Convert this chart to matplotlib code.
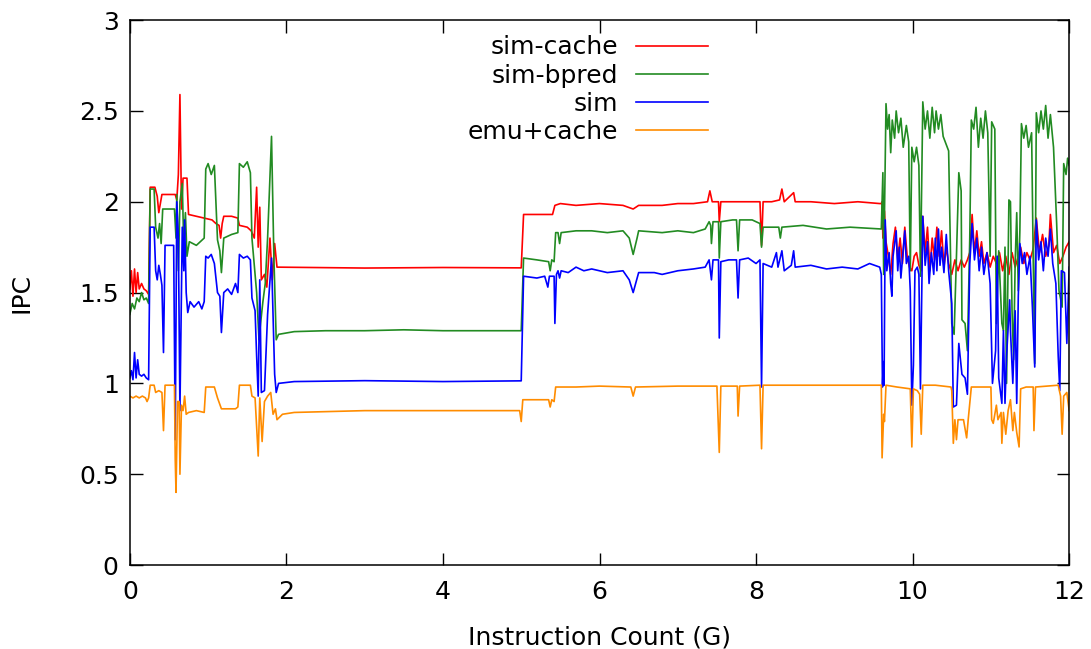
import numpy as np
import matplotlib.pyplot as plt
from matplotlib.ticker import FormatStrFormatter

# IPC traces, as (instruction count in G, IPC) pairs
sim_cache = np.array([
    (0.00, 1.52), (0.02, 1.62), (0.04, 1.48), (0.06, 1.63), (0.08, 1.50), (0.10, 1.61),
    (0.12, 1.52), (0.15, 1.55), (0.18, 1.52), (0.21, 1.51), (0.24, 1.49), (0.26, 2.08),
    (0.32, 2.08), (0.35, 2.03), (0.37, 1.94), (0.39, 1.99), (0.41, 2.04), (0.58, 2.04),
    (0.60, 2.01), (0.62, 2.15), (0.64, 2.59), (0.66, 1.96), (0.68, 2.13), (0.73, 2.13),
    (0.75, 1.93), (0.85, 1.92), (0.95, 1.91), (1.05, 1.90), (1.10, 1.88), (1.14, 1.87),
    (1.16, 1.80), (1.18, 1.88), (1.20, 1.92), (1.30, 1.92), (1.38, 1.91), (1.40, 1.87),
    (1.50, 1.86), (1.55, 1.84), (1.59, 1.80), (1.62, 2.08), (1.64, 1.75), (1.66, 1.97),
    (1.68, 1.57), (1.72, 1.60), (1.75, 1.53), (1.79, 1.80), (1.82, 1.57), (1.85, 1.77),
    (1.88, 1.64), (3.00, 1.635), (4.00, 1.638), (5.00, 1.636),
    (5.03, 1.93), (5.20, 1.93), (5.40, 1.93), (5.43, 1.98), (5.50, 1.99), (5.70, 1.98),
    (6.00, 1.99), (6.30, 1.98), (6.43, 1.96), (6.50, 1.98), (6.80, 1.98), (7.00, 1.99),
    (7.20, 1.99), (7.38, 2.00), (7.41, 2.06), (7.44, 2.00), (7.52, 2.00), (7.53, 1.89),
    (7.55, 2.00), (7.70, 2.00), (7.90, 2.00), (8.05, 2.00), (8.07, 1.76), (8.09, 2.00),
    (8.20, 2.00), (8.30, 2.01), (8.33, 2.07), (8.36, 2.00), (8.48, 2.05), (8.50, 2.00),
    (8.70, 2.00), (9.00, 1.99), (9.30, 2.00), (9.58, 1.99),
    (9.60, 1.99), (9.61, 2.00), (9.62, 1.80), (9.64, 1.95), (9.66, 1.78), (9.69, 1.70),
    (9.72, 1.60), (9.75, 1.77), (9.78, 1.86), (9.81, 1.68), (9.84, 1.80), (9.87, 1.66),
    (9.90, 1.86), (9.93, 1.70), (9.96, 1.64), (9.99, 1.62), (10.02, 1.70), (10.05, 1.72),
    (10.08, 1.65), (10.11, 1.62), (10.13, 1.92), (10.16, 1.72), (10.19, 1.86), (10.22, 1.62),
    (10.25, 1.80), (10.28, 1.68), (10.31, 1.86), (10.34, 1.70), (10.37, 1.84), (10.40, 1.64),
    (10.43, 1.75), (10.46, 1.66), (10.50, 1.60), (10.54, 1.68), (10.58, 1.62), (10.62, 1.68),
    (10.66, 1.64), (10.70, 1.68), (10.73, 1.72), (10.76, 1.93), (10.79, 1.72), (10.82, 1.84),
    (10.85, 1.70), (10.88, 1.78), (10.91, 1.66), (10.95, 1.72), (10.99, 1.64), (11.03, 1.70),
    (11.07, 1.66), (11.11, 1.72), (11.15, 1.62), (11.19, 1.70), (11.23, 1.60), (11.27, 1.72),
    (11.31, 1.64), (11.35, 1.70), (11.38, 1.75), (11.42, 1.66), (11.46, 1.72), (11.50, 1.68),
    (11.54, 1.74), (11.58, 1.91), (11.62, 1.72), (11.66, 1.82), (11.70, 1.70), (11.74, 1.76),
    (11.76, 1.93), (11.80, 1.72), (11.84, 1.76), (11.88, 1.66), (11.92, 1.70), (11.96, 1.75),
    (12.00, 1.78),
])

sim_bpred = np.array([
    (0.00, 1.38), (0.03, 1.44), (0.06, 1.41), (0.09, 1.47), (0.12, 1.45), (0.15, 1.50),
    (0.18, 1.46), (0.21, 1.47), (0.24, 1.44), (0.26, 2.07), (0.31, 2.07), (0.33, 1.86),
    (0.36, 1.80), (0.38, 1.88), (0.40, 1.77), (0.42, 1.96), (0.57, 1.96), (0.59, 1.80),
    (0.60, 2.04), (0.62, 1.62), (0.64, 2.00), (0.67, 2.10), (0.69, 1.74), (0.71, 1.94),
    (0.73, 1.70), (0.76, 1.78), (0.85, 1.76), (0.95, 1.80), (0.97, 2.18), (1.00, 2.21),
    (1.04, 2.15), (1.08, 2.20), (1.12, 1.79), (1.15, 1.73), (1.17, 1.61), (1.20, 1.80),
    (1.30, 1.82), (1.38, 1.83), (1.40, 2.21), (1.45, 2.19), (1.50, 2.22), (1.54, 2.16),
    (1.56, 1.80), (1.60, 1.60), (1.62, 1.50), (1.65, 1.24), (1.67, 1.33), (1.70, 1.45),
    (1.73, 1.55), (1.76, 1.80), (1.81, 2.36), (1.84, 1.70), (1.87, 1.24), (1.90, 1.27),
    (2.10, 1.285), (2.50, 1.29), (3.00, 1.29), (3.50, 1.295), (4.00, 1.29), (5.00, 1.29),
    (5.03, 1.69), (5.20, 1.68), (5.35, 1.67), (5.37, 1.62), (5.39, 1.68), (5.42, 1.67),
    (5.44, 1.83), (5.47, 1.83), (5.49, 1.77), (5.51, 1.83), (5.70, 1.84), (5.90, 1.84),
    (6.10, 1.83), (6.30, 1.84), (6.38, 1.80), (6.43, 1.71), (6.48, 1.80), (6.50, 1.84),
    (6.80, 1.83), (7.00, 1.84), (7.20, 1.83), (7.35, 1.85), (7.40, 1.89), (7.42, 1.87),
    (7.43, 1.77), (7.45, 1.89), (7.52, 1.89), (7.53, 1.69), (7.55, 1.89), (7.70, 1.90),
    (7.75, 1.90), (7.77, 1.73), (7.79, 1.90), (7.95, 1.90), (8.05, 1.88), (8.07, 1.75),
    (8.09, 1.86), (8.25, 1.86), (8.29, 1.86), (8.31, 1.80), (8.33, 1.86), (8.60, 1.87),
    (8.90, 1.85), (9.20, 1.86), (9.58, 1.85),
    (9.60, 1.85), (9.62, 2.16), (9.63, 1.60), (9.66, 2.54), (9.68, 2.40), (9.70, 2.48),
    (9.72, 2.27), (9.74, 2.45), (9.77, 2.35), (9.79, 2.50), (9.82, 2.38), (9.85, 2.46),
    (9.88, 2.30), (9.92, 2.42), (9.95, 2.33), (9.97, 1.62), (9.99, 2.30), (10.02, 2.22),
    (10.05, 2.30), (10.08, 2.20), (10.10, 1.59), (10.13, 2.55), (10.16, 2.40), (10.19, 2.50),
    (10.22, 2.35), (10.25, 2.52), (10.28, 2.38), (10.30, 2.50), (10.33, 2.40), (10.36, 2.48),
    (10.39, 2.36), (10.46, 2.28), (10.50, 1.33), (10.53, 1.27), (10.56, 1.70), (10.59, 2.16),
    (10.62, 2.06), (10.63, 1.35), (10.67, 1.33), (10.70, 1.18), (10.73, 1.80), (10.75, 2.45),
    (10.78, 2.40), (10.81, 2.52), (10.84, 2.30), (10.87, 2.46), (10.90, 2.35), (10.93, 2.50),
    (10.96, 2.38), (10.99, 1.70), (11.01, 2.44), (11.05, 2.40), (11.07, 1.33), (11.10, 1.73),
    (11.14, 1.33), (11.16, 1.29), (11.18, 1.75), (11.20, 1.00), (11.23, 2.01), (11.25, 2.00),
    (11.27, 1.40), (11.29, 1.13), (11.31, 1.67), (11.33, 1.94), (11.35, 1.51), (11.37, 1.84),
    (11.39, 2.43), (11.42, 2.35), (11.45, 2.42), (11.48, 2.30), (11.52, 2.38), (11.54, 1.70),
    (11.56, 1.11), (11.58, 2.49), (11.61, 2.38), (11.64, 2.50), (11.67, 2.40), (11.70, 2.53),
    (11.73, 2.35), (11.76, 2.48), (11.80, 2.30), (11.84, 1.88), (11.87, 1.51), (11.91, 1.42),
    (11.93, 2.21), (11.96, 2.15), (11.98, 2.24), (12.00, 2.20),
])

sim = np.array([
    (0.00, 1.03), (0.02, 1.07), (0.04, 1.02), (0.06, 1.17), (0.08, 1.03), (0.10, 1.13),
    (0.12, 1.05), (0.15, 1.04), (0.18, 1.05), (0.21, 1.03), (0.24, 1.02), (0.26, 1.86),
    (0.31, 1.86), (0.33, 1.62), (0.35, 1.57), (0.37, 1.65), (0.39, 1.60), (0.41, 1.54),
    (0.43, 1.17), (0.45, 1.76), (0.56, 1.76), (0.58, 0.69), (0.60, 2.00), (0.62, 1.80),
    (0.64, 0.85), (0.67, 1.86), (0.69, 1.62), (0.70, 1.90), (0.72, 1.50), (0.74, 1.39),
    (0.77, 1.45), (0.82, 1.42), (0.88, 1.45), (0.92, 1.41), (0.95, 1.45), (0.97, 1.70),
    (1.00, 1.69), (1.04, 1.71), (1.08, 1.66), (1.12, 1.50), (1.15, 1.48), (1.17, 1.28),
    (1.20, 1.50), (1.25, 1.52), (1.30, 1.49), (1.35, 1.55), (1.38, 1.50), (1.40, 1.71),
    (1.45, 1.69), (1.50, 1.70), (1.54, 1.68), (1.56, 1.47), (1.60, 1.40), (1.62, 1.15),
    (1.64, 0.93), (1.66, 1.57), (1.68, 0.95), (1.72, 0.96), (1.76, 1.38), (1.81, 1.69),
    (1.85, 1.05), (1.87, 0.95), (1.90, 1.00), (2.10, 1.01), (3.00, 1.015), (4.00, 1.01),
    (5.00, 1.014),
    (5.03, 1.59), (5.20, 1.58), (5.30, 1.59), (5.34, 1.53), (5.36, 1.59), (5.42, 1.59),
    (5.43, 1.33), (5.45, 1.60), (5.47, 1.62), (5.49, 1.58), (5.51, 1.62), (5.60, 1.61),
    (5.70, 1.64), (5.80, 1.62), (5.90, 1.63), (6.10, 1.61), (6.30, 1.62), (6.38, 1.57),
    (6.43, 1.50), (6.48, 1.58), (6.50, 1.61), (6.70, 1.61), (6.80, 1.60), (7.00, 1.62),
    (7.20, 1.63), (7.35, 1.64), (7.40, 1.68), (7.43, 1.57), (7.45, 1.68), (7.52, 1.68),
    (7.53, 1.25), (7.55, 1.67), (7.65, 1.68), (7.75, 1.68), (7.77, 1.47), (7.79, 1.68),
    (7.90, 1.69), (8.00, 1.66), (8.05, 1.68), (8.07, 0.98), (8.09, 1.66), (8.20, 1.64),
    (8.26, 1.72), (8.28, 1.64), (8.33, 1.73), (8.36, 1.62), (8.45, 1.65), (8.48, 1.73),
    (8.50, 1.64), (8.70, 1.65), (8.90, 1.63), (9.10, 1.64), (9.30, 1.63), (9.45, 1.66),
    (9.58, 1.64),
    (9.60, 1.60), (9.615, 0.98), (9.625, 1.12), (9.635, 0.99), (9.65, 1.90), (9.67, 1.62),
    (9.70, 1.72), (9.72, 1.55), (9.735, 1.48), (9.75, 1.70), (9.79, 1.84), (9.81, 1.62),
    (9.83, 1.75), (9.85, 1.58), (9.90, 1.84), (9.92, 1.66), (9.95, 1.70), (9.97, 1.51),
    (9.99, 0.88), (10.01, 1.10), (10.03, 1.62), (10.06, 1.64), (10.08, 1.60), (10.10, 0.97),
    (10.13, 1.92), (10.16, 1.65), (10.19, 1.78), (10.21, 1.55), (10.24, 1.72), (10.27, 1.60),
    (10.29, 1.80), (10.31, 1.62), (10.33, 1.85), (10.35, 1.65), (10.37, 1.75), (10.40, 1.61),
    (10.43, 1.82), (10.46, 1.62), (10.50, 1.44), (10.52, 0.87), (10.56, 0.88), (10.59, 1.22),
    (10.63, 1.05), (10.67, 1.03), (10.70, 0.94), (10.73, 1.66), (10.76, 1.88), (10.79, 1.68),
    (10.82, 1.80), (10.85, 1.62), (10.88, 1.75), (10.91, 1.60), (10.95, 1.72), (10.99, 1.55),
    (11.02, 1.00), (11.06, 1.18), (11.08, 1.70), (11.10, 1.03), (11.14, 0.89), (11.16, 1.29),
    (11.18, 0.89), (11.20, 1.15), (11.24, 1.46), (11.25, 1.29), (11.28, 1.00), (11.31, 1.40),
    (11.33, 0.89), (11.35, 1.48), (11.37, 1.77), (11.40, 1.66), (11.43, 1.72), (11.46, 1.60),
    (11.50, 1.70), (11.53, 1.42), (11.56, 1.09), (11.58, 1.90), (11.61, 1.68), (11.64, 1.78),
    (11.67, 1.62), (11.70, 1.80), (11.73, 1.70), (11.76, 1.85), (11.79, 1.66), (11.83, 1.55),
    (11.86, 1.15), (11.88, 0.96), (11.90, 1.62), (11.94, 1.61), (11.97, 1.22), (12.00, 1.64),
])

emu_cache = np.array([
    (0.00, 0.93), (0.04, 0.92), (0.08, 0.93), (0.12, 0.92), (0.16, 0.93), (0.20, 0.92),
    (0.22, 0.90), (0.24, 0.92), (0.26, 0.99), (0.31, 0.99), (0.33, 0.95), (0.37, 0.96),
    (0.41, 0.95), (0.43, 0.74), (0.45, 0.99), (0.57, 0.99), (0.58, 0.58), (0.59, 0.40),
    (0.61, 0.90), (0.63, 0.90), (0.64, 0.50), (0.66, 0.88), (0.68, 0.85), (0.70, 0.93),
    (0.72, 0.83), (0.75, 0.84), (0.85, 0.85), (0.95, 0.84), (0.97, 0.98), (1.08, 0.98),
    (1.12, 0.92), (1.17, 0.86), (1.25, 0.86), (1.35, 0.86), (1.38, 0.87), (1.40, 0.99),
    (1.54, 0.99), (1.56, 0.93), (1.60, 0.92), (1.64, 0.60), (1.66, 0.92), (1.69, 0.68),
    (1.72, 0.90), (1.76, 0.93), (1.80, 0.95), (1.83, 0.83), (1.86, 0.86), (1.88, 0.80),
    (1.95, 0.83), (2.10, 0.84), (3.00, 0.85), (4.00, 0.85), (4.98, 0.85), (5.00, 0.79),
    (5.02, 0.91), (5.20, 0.91), (5.35, 0.91), (5.37, 0.87), (5.39, 0.91), (5.42, 0.90),
    (5.44, 0.98), (5.70, 0.98), (6.00, 0.985), (6.40, 0.98), (6.43, 0.93), (6.46, 0.98),
    (7.00, 0.985), (7.50, 0.985), (7.53, 0.62), (7.55, 0.985), (7.76, 0.985), (7.77, 0.82),
    (7.79, 0.985), (8.05, 0.99), (8.07, 0.64), (8.09, 0.99), (8.50, 0.99), (9.00, 0.99),
    (9.58, 0.99),
    (9.60, 0.99), (9.61, 0.59), (9.63, 0.83), (9.64, 0.79), (9.66, 0.99), (9.80, 0.98),
    (9.97, 0.97), (9.99, 0.65), (10.01, 0.97), (10.06, 0.96), (10.09, 0.94), (10.11, 0.72),
    (10.13, 0.99), (10.29, 0.99), (10.49, 0.98), (10.50, 0.96), (10.52, 0.67), (10.54, 0.80),
    (10.56, 0.69), (10.58, 0.80), (10.65, 0.80), (10.69, 0.70), (10.71, 0.80), (10.75, 0.98),
    (10.98, 0.98), (11.00, 0.98), (11.01, 0.80), (11.03, 0.78), (11.07, 0.88), (11.09, 0.80),
    (11.13, 0.84), (11.14, 0.67), (11.16, 0.84), (11.19, 0.72), (11.22, 0.85), (11.25, 0.91),
    (11.28, 0.74), (11.30, 0.84), (11.33, 0.73), (11.36, 0.65), (11.38, 0.97), (11.45, 0.98),
    (11.54, 0.98), (11.55, 0.74), (11.57, 0.98), (11.86, 0.99), (11.89, 0.93), (11.91, 0.72),
    (11.93, 0.93), (11.97, 0.95), (12.00, 0.85),
])

series = [
    (sim_cache, 'sim-cache', '#ff0000'),
    (sim_bpred, 'sim-bpred', '#228b22'),
    (sim, 'sim', '#0000ff'),
    (emu_cache, 'emu+cache', '#ff8c00'),
]

fig, ax = plt.subplots(figsize=(10.91, 6.49), dpi=100)
fig.subplots_adjust(left=0.119, right=0.980, bottom=0.1294, top=0.969)

for data, label, color in series:
    ax.plot(data[:, 0], data[:, 1], color=color, linewidth=1.2, label=label)

ax.set_xlim(0, 12)
ax.set_ylim(0, 3)
ax.set_xticks(np.arange(0, 13, 2))
ax.set_yticks(np.arange(0, 3.01, 0.5))
ax.yaxis.set_major_formatter(FormatStrFormatter('%g'))
ax.tick_params(direction='in', length=9, width=1, top=True, right=True,
               labelsize=18)
ax.tick_params(axis='x', pad=11)
ax.tick_params(axis='y', pad=8)
for sp in ax.spines.values():
    sp.set_linewidth(1.1)

ax.set_xlabel('Instruction Count (G)', fontsize=18, labelpad=15)
ax.set_ylabel('IPC', fontsize=18, labelpad=33)

ax.legend(loc='upper right', bbox_to_anchor=(0.6156, 0.972), frameon=False,
          markerfirst=False, fontsize=18, handlelength=2.9, handletextpad=0.7,
          labelspacing=0.17, borderpad=0, borderaxespad=0)

plt.savefig('out.png', dpi=100)
